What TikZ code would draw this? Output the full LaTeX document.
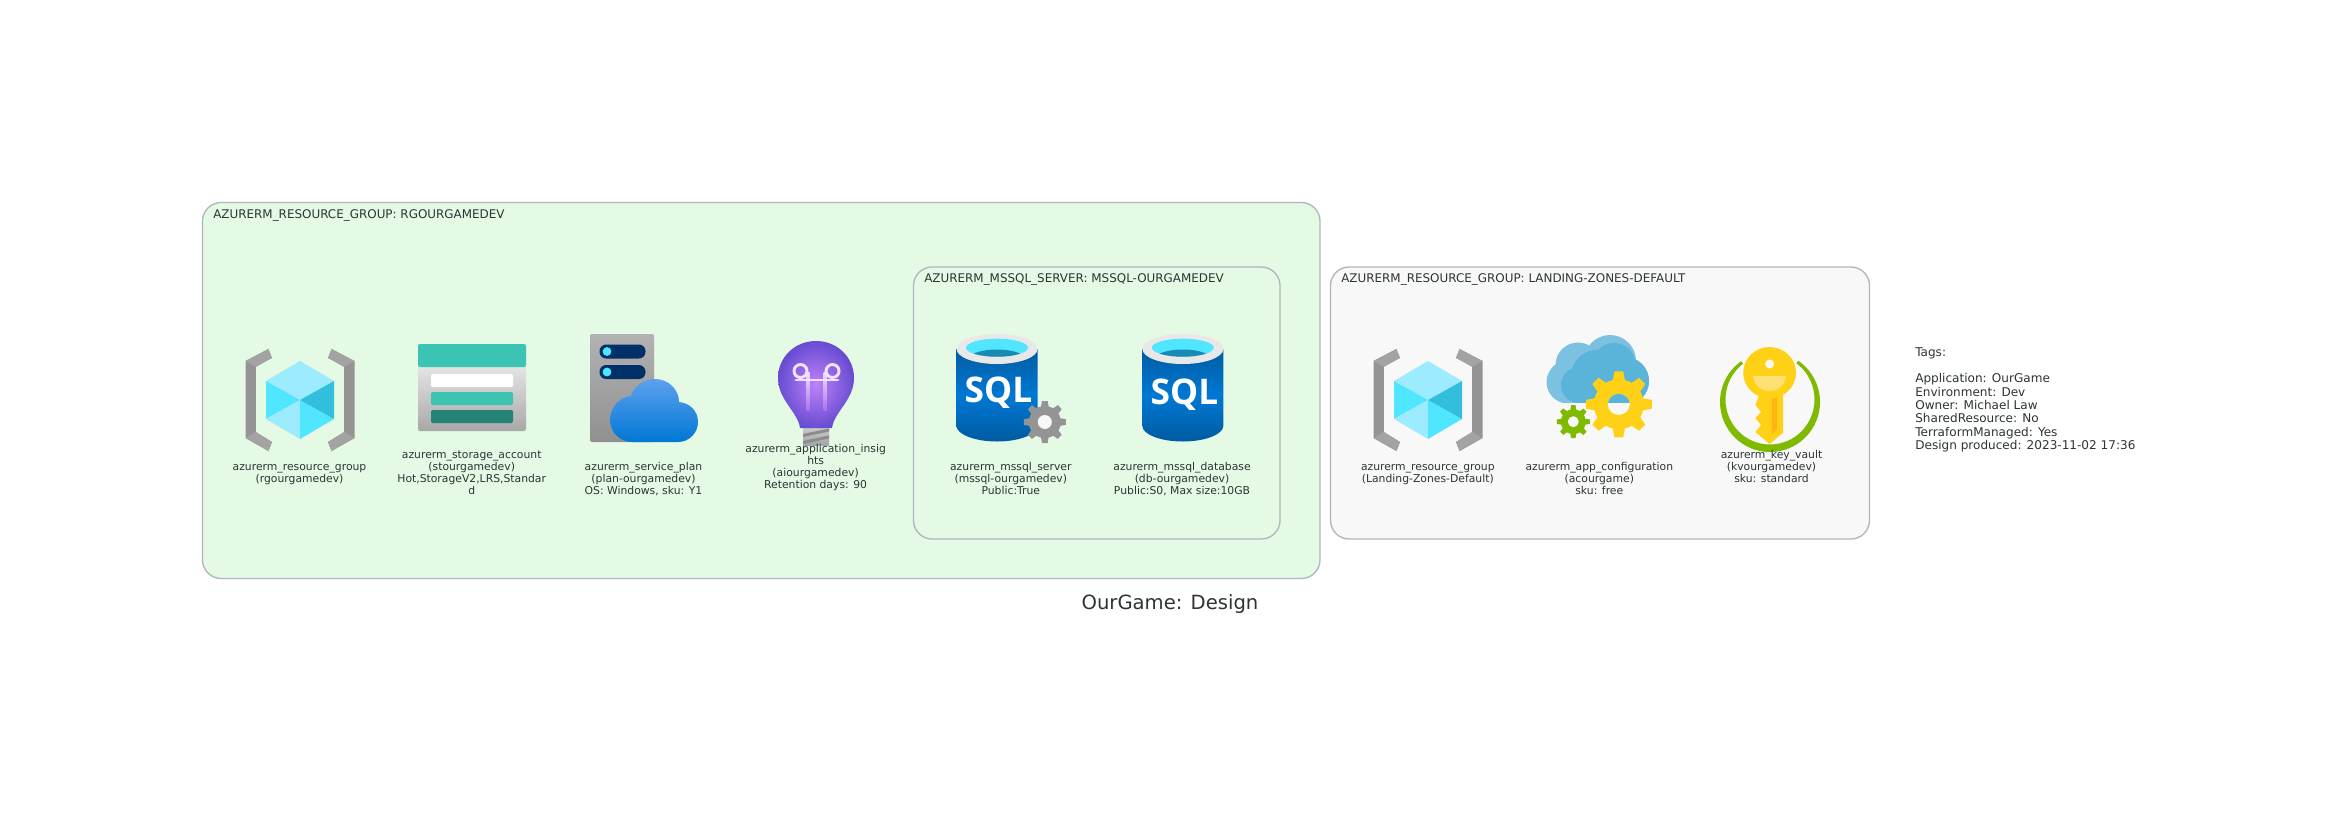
\documentclass[tikz,border=0pt]{standalone}
\usepackage{fontspec}
\setmainfont{DejaVu Sans}
\newfontfamily\sqlfont{Open Sans}
\definecolor{ink}{HTML}{2D3436}
\definecolor{edge}{HTML}{AEB6BE}
\definecolor{greenbg}{HTML}{E4FAE4}
\definecolor{greybg}{HTML}{F8F8F8}
\definecolor{cyanA}{HTML}{50E6FF}
\definecolor{cyanB}{HTML}{9CEBFF}
\definecolor{cyanC}{HTML}{32BEDD}
\definecolor{azYellow}{HTML}{FFD116}
\definecolor{azGreen}{HTML}{7FB900}
\tikzset{
  groupbox/.style={draw=edge,line width=1pt,rounded corners=14pt},
  grouplabel/.style={anchor=base west,inner sep=0pt,text=ink,font=\fontsize{8.95}{10}\selectfont},
  reslabel/.style={anchor=north,inner sep=0pt,align=center,text=ink,font=\fontsize{8.1}{9}\selectfont},
  taglabel/.style={anchor=north west,inner sep=0pt,align=left,text=ink,font=\fontsize{9.05}{10}\selectfont},
  titlelabel/.style={anchor=center,inner sep=0pt,text=ink,font=\fontsize{14.7}{17}\selectfont},
  sqltext/.style={inner sep=0pt,text=white,font=\sqlfont\bfseries\fontsize{26.5}{27}\selectfont}
}
\newcommand{\rgicon}[2]{%
  \begin{scope}[shift={(#1,#2)}]
    \foreach \sx in {1,-1}{
      \begin{scope}[xscale=\sx]
        \fill[color={rgb,255:red,148;green,148;blue,148}] (-54.5,-39) -- (-31.6,-51) -- (-28,-42) -- (-44.2,-36) -- (-44.2,32) -- (-28,42) -- (-31.6,51) -- (-54.5,38) -- cycle;
        \fill[color={rgb,255:red,163;green,163;blue,163}] (-54.5,-39) -- (-31.6,-51) -- (-28,-42) -- (-44.2,-33) -- cycle;
        \fill[color={rgb,255:red,163;green,163;blue,163}] (-54.5,38) -- (-31.6,51) -- (-28,42) -- (-44.2,32) -- cycle;
      \end{scope}
    }
    \fill[cyanB] (0,-39) -- (34,-19) -- (0,0) -- (-34,-19) -- cycle;
    \fill[cyanA] (-34,-19) -- (0,0) -- (-34,19) -- cycle;
    \fill[cyanB] (-34,19) -- (0,0) -- (0,39) -- cycle;
    \fill[cyanA] (0,0) -- (34,19) -- (0,39) -- cycle;
    \fill[cyanC] (0,0) -- (34,-19) -- (34,19) -- cycle;
  \end{scope}}
\newcommand{\sqlcyl}[1]{%
  \begin{scope}[shift={(#1,349)}]
    \shade[left color={rgb,255:red,0;green,91;blue,161},right color={rgb,255:red,0;green,91;blue,161},middle color={rgb,255:red,0;green,120;blue,212},shading angle=0]
      (-40.5,0) -- (-40.5,77) .. controls (-40.5,85) and (-23,92.5) .. (0,92.5) .. controls (23,92.5) and (40.5,85) .. (40.5,77) -- (40.5,0) -- cycle;
    \fill[color={rgb,255:red,232;green,232;blue,232}] (0,0) ellipse [x radius=40.5,y radius=15];
    \begin{scope}
      \clip (0,-1.3) ellipse [x radius=31,y radius=9];
      \fill[cyanA] (0,-1.3) ellipse [x radius=31,y radius=9];
      \fill[color={rgb,255:red,25;green,138;blue,179}] (-24,5) .. controls (-12,-1) and (12,-1) .. (24,5) -- (24,12) -- (-24,12) -- cycle;
    \end{scope}
  \end{scope}}
% centre x, centre y, outer radius, root radius, teeth, colour
\newcommand{\azgear}[6]{%
  \begin{scope}[shift={(#1,#2)}]
    \fill[#6] (0,0) circle (#4);
    \pgfmathsetmacro{\gstep}{360/#5}
    \pgfmathsetmacro{\gw}{0.62*#4*3.14159/#5}
    \pgfmathsetmacro{\gt}{0.72*\gw}
    \pgfmathsetmacro{\gr}{#4-1}
    \foreach \gi in {1,...,#5}{
      \fill[#6,rotate=\gi*\gstep] (-\gw,-\gr) -- (-\gt,-#3) -- (\gt,-#3) -- (\gw,-\gr) -- cycle;
    }
  \end{scope}}
\begin{document}
\begin{tikzpicture}[x=0.75pt,y=-0.75pt]
\useasboundingbox (0,0) rectangle (2341,815);
\fill[white] (0,0) rectangle (2341,815);
% clusters
\path[groupbox,fill=greenbg] (202.5,202.5) rectangle (1320,578.5);
\path[groupbox,fill=greenbg] (913.5,267) rectangle (1280,539);
\path[groupbox,fill=greybg] (1330.5,267) rectangle (1869.5,539);
% resource group icons
\rgicon{300}{400}
\rgicon{1428}{400}
% storage account
\shade[top color={rgb,255:red,232;green,232;blue,232},bottom color={rgb,255:red,168;green,168;blue,168},rounded corners=1.5pt] (418,362) rectangle (526,431);
\fill[color={rgb,255:red,59;green,196;blue,177},rounded corners=1.5pt] (418,344) rectangle (526,367);
\fill[white,rounded corners=1pt] (431,374) rectangle (513,387);
\fill[color={rgb,255:red,59;green,196;blue,177},rounded corners=1pt] (431,392) rectangle (513,405);
\fill[color={rgb,255:red,37;green,130;blue,119},rounded corners=1pt] (431,410) rectangle (513,423);
% service plan
\shade[top color={rgb,255:red,178;green,178;blue,178},bottom color={rgb,255:red,144;green,144;blue,144},rounded corners=1.5pt] (590,334) rectangle (654,442);
\foreach \py in {344.5,365}{
  \fill[color={rgb,255:red,0;green,48;blue,103},rounded corners=5pt] (599.5,\py) rectangle (645.5,\py+14);
  \fill[cyanA] (607,\py+7) circle (4.4);
}
\shade[top color={rgb,255:red,94;green,160;blue,239},bottom color={rgb,255:red,0;green,120;blue,212}]
  (632,442) -- (678,442) .. controls (689,442) and (698,433) .. (698,422) .. controls (698,411) and (690,403) .. (679,402) .. controls (679,389) and (668,379) .. (655,379) .. controls (644,379) and (634,386) .. (631,396) .. controls (619,397) and (610,408) .. (610,420) .. controls (610,432) and (620,442) .. (632,442) -- cycle;
% application insights
\shade[top color={rgb,255:red,205;green,205;blue,205},bottom color={rgb,255:red,165;green,165;blue,165}] (803,426) rectangle (829,445);
\fill[color={rgb,255:red,140;green,140;blue,140}] (803,434) -- (829,428.5) -- (829,431.5) -- (803,437) -- cycle;
\fill[color={rgb,255:red,140;green,140;blue,140}] (803,441) -- (829,435.5) -- (829,438.5) -- (803,444) -- cycle;
\shade[inner color={rgb,255:red,190;green,130;blue,248},outer color={rgb,255:red,104;green,76;blue,210}]
  (800,428) .. controls (798,412) and (778,400) .. (778,378) .. controls (778,357) and (795,341) .. (816,341) .. controls (837,341) and (854,357) .. (854,378) .. controls (854,400) and (834,412) .. (832,428) -- cycle;
\shade[top color={rgb,255:red,240;green,225;blue,255},bottom color={rgb,255:red,170;green,115;blue,235}] (806.5,372) rectangle (809.5,410);
\shade[top color={rgb,255:red,240;green,225;blue,255},bottom color={rgb,255:red,170;green,115;blue,235}] (823.5,372) rectangle (826.5,410);
\draw[color={rgb,255:red,240;green,225;blue,255},line width=2.2pt] (800.5,371) circle (6.5);
\draw[color={rgb,255:red,240;green,225;blue,255},line width=2.2pt] (832.5,371) circle (6.5);
\draw[color={rgb,255:red,240;green,225;blue,255},line width=2.2pt,line cap=round] (796,380) -- (838,380);
% sql server
\sqlcyl{997}
\node[sqltext] (sqlA) at (998.5,392.5) {SQL};
\azgear{1044.8}{422}{21}{16}{8}{color={rgb,255:red,148;green,148;blue,148}}
\fill[color={rgb,255:red,245;green,248;blue,245}] (1044.8,422) circle (7);
% sql database
\sqlcyl{1182.8}
\node[sqltext] (sqlB) at (1184.5,394.5) {SQL};
% app configuration
\foreach \cx/\cy/\cr in {1568/382/21.5,1578/365/22.5,1610/361/26,1625/381/24}{
  \fill[color={rgb,255:red,124;green,194;blue,224}] (\cx,\cy) circle (\cr);
}
\fill[color={rgb,255:red,124;green,194;blue,224}] (1566,385) rectangle (1640,403.3);
\foreach \cx/\cy/\cr in {1579/385/18,1597/376/26,1614/365/22,1625/381/24}{
  \fill[color={rgb,255:red,90;green,180;blue,217}] (\cx,\cy) circle (\cr);
}
\fill[color={rgb,255:red,90;green,180;blue,217}] (1579,385) rectangle (1640,403.3);
\fill[greybg] (1540,403.3) rectangle (1655,440);
\azgear{1618.8}{404.3}{33}{25}{8}{azYellow}
\begin{scope}
  \clip (1618.8,404.3) ellipse [x radius=11,y radius=10.5];
  \fill[greybg] (1600,390) rectangle (1640,420);
  \fill[color={rgb,255:red,90;green,180;blue,217}] (1600,390) rectangle (1640,403.3);
\end{scope}
\azgear{1573.3}{421.7}{16.5}{12.5}{8}{azGreen}
\fill[greybg] (1573.3,421.7) circle (5.5);
% key vault
\begin{scope}
  \clip (1741,361) -- (1715,361) -- (1715,456) -- (1825,456) -- (1825,361) -- (1798,361) -- (1770,400) -- cycle;
  \fill[azGreen,even odd rule] (1770,402) circle (50) (1770,399.5) ellipse [x radius=44.5,y radius=45];
\end{scope}
\fill[azYellow] (1761,390) -- (1783,390) -- (1783,432.7) -- (1769.6,444) -- (1755.4,432) -- (1761,425) -- (1755.4,418) -- (1761,412) -- (1755.4,405) -- cycle;
\fill[color={rgb,255:red,255;green,182;blue,15}] (1772,399) -- (1777,397) -- (1777,429) -- (1772,434) -- cycle;
\fill[azYellow] (1769.6,372.7) ellipse [x radius=26.4,y radius=25.7];
\fill[color={rgb,255:red,255;green,224;blue,114}] (1753,376) -- (1786,376) .. controls (1785,385) and (1778,391) .. (1769.5,391) .. controls (1761,391) and (1754,385) .. (1753,376) -- cycle;
\fill[greybg] (1769.6,364) circle (4.5);
% cluster labels
\node[grouplabel] (lblRg) at (213,218) {AZURERM\_RESOURCE\_GROUP: RGOURGAMEDEV};
\node[grouplabel] (lblSql) at (924,282) {AZURERM\_MSSQL\_SERVER: MSSQL-OURGAMEDEV};
\node[grouplabel] (lblLz) at (1341,282) {AZURERM\_RESOURCE\_GROUP: LANDING-ZONES-DEFAULT};
% resource labels
\node[reslabel] (n1) at (299.5,462) {\vphantom{l}azurerm\_resource\_group\\(rgourgamedev)};
\node[reslabel] (n2) at (471.7,450) {\vphantom{l}azurerm\_storage\_account\\(stourgamedev)\\Hot,StorageV2,LRS,Standar\\d};
\node[reslabel] (n3) at (643.5,462) {azurerm\_service\_plan\\(plan-ourgamedev)\\OS: Windows, sku: Y1};
\node[reslabel] (n4) at (815.6,444) {azurerm\_application\_insig\\hts\\(aiourgamedev)\\Retention days: 90};
\node[reslabel] (n5) at (1010.8,462) {azurerm\_mssql\_server\\(mssql-ourgamedev)\\Public:True};
\node[reslabel] (n6) at (1182,462) {azurerm\_mssql\_database\\(db-ourgamedev)\\Public:S0, Max size:10GB};
\node[reslabel] (n7) at (1427.8,462) {\vphantom{l}azurerm\_resource\_group\\(Landing-Zones-Default)};
\node[reslabel] (n8) at (1599.3,462) {azurerm\_app\_configuration\\(acourgame)\\sku: free};
\node[reslabel] (n9) at (1771.5,450) {azurerm\_key\_vault\\(kvourgamedev)\\sku: standard};
% tags and title
\node[taglabel] (tags) at (1915,347) {Tags:\\[10pt]Application: OurGame\\Environment: Dev\\Owner: Michael Law\\SharedResource: No\\TerraformManaged: Yes\\Design produced: 2023-11-02 17:36};
\node[titlelabel] (title) at (1170,604.5) {OurGame: Design};
\end{tikzpicture}
\end{document}
